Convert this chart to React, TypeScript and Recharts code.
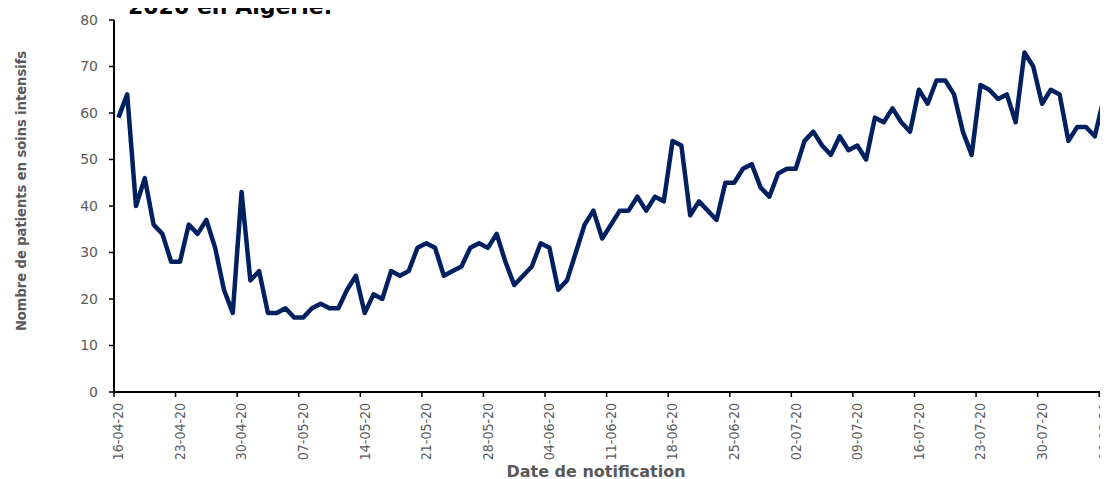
import { LineChart, Line, XAxis, YAxis } from 'recharts';

// daily ICU patients, 16-04-20 -> 06-08-20
const patients = [
  59, 64, 40, 46, 36, 34, 28, 28, 36, 34, 37, 31, 22, 17, 43, 24, 26, 17, 17, 18,
  16, 16, 18, 19, 18, 18, 22, 25, 17, 21, 20, 26, 25, 26, 31, 32, 31, 25, 26, 27,
  31, 32, 31, 34, 28, 23, 25, 27, 32, 31, 22, 24, 30, 36, 39, 33, 36, 39, 39, 42,
  39, 42, 41, 54, 53, 38, 41, 39, 37, 45, 45, 48, 49, 44, 42, 47, 48, 48, 54, 56,
  53, 51, 55, 52, 53, 50, 59, 58, 61, 58, 56, 65, 62, 67, 67, 64, 56, 51, 66, 65,
  63, 64, 58, 73, 70, 62, 65, 64, 54, 57, 57, 55, 63,
];

const tickLabels = [
  '16-04-20', '23-04-20', '30-04-20', '07-05-20', '14-05-20', '21-05-20',
  '28-05-20', '04-06-20', '11-06-20', '18-06-20', '25-06-20', '02-07-20',
  '09-07-20', '16-07-20', '23-07-20', '30-07-20', '06-08-20',
];

const yTicks = [0, 10, 20, 30, 40, 50, 60, 70, 80];

const data = patients.map((v, i) => ({ day: i + 0.5, patients: v }));
const xTicks = tickLabels.map((_, k) => k * 7);

const GREY = '#595959';
const NARROW = "'Liberation Sans Narrow', 'DejaVu Sans Condensed', 'Arial Narrow', sans-serif";

function DateTick(props: any) {
  const { x, y, payload } = props;
  const label = tickLabels[Math.round(payload.value / 7)] ?? '';
  return (
    <g transform={`translate(${x + 4.4},${y})`}>
      <text
        x={0}
        y={0}
        dy="0.35em"
        textAnchor="end"
        transform="rotate(-90)"
        fontFamily={NARROW}
        fontSize={14}
        fill={GREY}
      >
        {label}
      </text>
    </g>
  );
}

export default function App() {
  return (
    <div style={{ position: 'relative', width: 1100, height: 471 }}>
      <style>{'html,body{overflow:hidden}'}</style>
      <div
        style={{
          position: 'absolute',
          left: 120,
          top: -12,
          fontFamily: "'DejaVu Sans', sans-serif",
          fontWeight: 'bold',
          fontSize: 22,
          lineHeight: '22px',
          color: '#000',
          whiteSpace: 'nowrap',
        }}
      >
        2020 en Algérie.
      </div>
      <LineChart width={1100} height={471} data={data} margin={{ top: 12, right: 0, left: 0, bottom: 0 }}>
        <XAxis
          type="number"
          dataKey="day"
          domain={[0, 113]}
          ticks={xTicks}
          interval={0}
          height={87}
          tickSize={5}
          tickMargin={6}
          tick={<DateTick />}
          axisLine={{ stroke: '#000', strokeWidth: 2 }}
          tickLine={{ stroke: '#000', strokeWidth: 1.5 }}
        />
        <YAxis
          type="number"
          domain={[0, 80]}
          ticks={yTicks}
          interval={0}
          width={106}
          tickSize={5}
          tickMargin={11}
          tick={{ fill: GREY, fontSize: 14, fontFamily: "'DejaVu Sans', sans-serif" }}
          axisLine={{ stroke: '#000', strokeWidth: 2 }}
          tickLine={{ stroke: '#000', strokeWidth: 1.5 }}
        />
        <Line
          type="linear"
          dataKey="patients"
          stroke="#002060"
          strokeWidth={4.5}
          strokeLinejoin="round"
          dot={false}
          activeDot={false}
          isAnimationActive={false}
        />
      </LineChart>
      <div
        style={{
          position: 'absolute',
          left: 13,
          top: 183,
          transform: 'translate(-50%, -50%) rotate(-90deg)',
          fontFamily: NARROW,
          fontWeight: 'bold',
          fontSize: 14.5,
          color: GREY,
          whiteSpace: 'nowrap',
        }}
      >
        Nombre de patients en soins intensifs
      </div>
      <div
        style={{
          position: 'absolute',
          left: 588,
          top: 456,
          transform: 'translateX(-50%)',
          fontFamily: "'DejaVu Sans', sans-serif",
          fontWeight: 'bold',
          fontSize: 16,
          lineHeight: '16px',
          color: GREY,
          whiteSpace: 'nowrap',
        }}
      >
        Date de notification
      </div>
    </div>
  );
}
